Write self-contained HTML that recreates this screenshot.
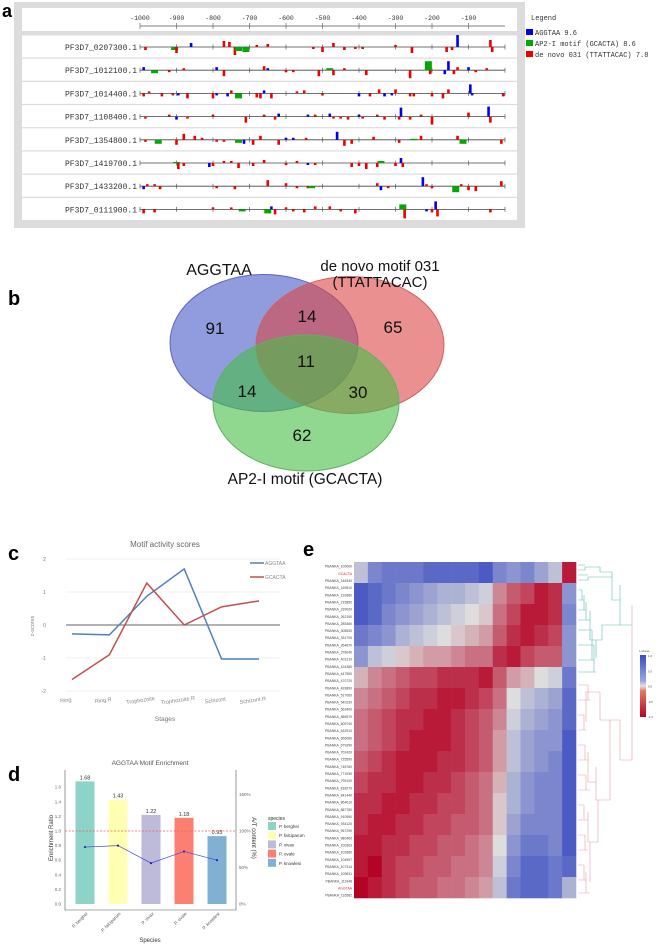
<!DOCTYPE html>
<html><head><meta charset="utf-8"><style>
body{margin:0;background:#fff;}
svg{display:block;font-family:"Liberation Sans",sans-serif;}
</style></head><body>
<svg id="fig" width="665" height="944" viewBox="0 0 665 944">
<!-- Panel a -->
<g id="panelA">
<rect x="14" y="2" width="511" height="226" fill="#dcdcdc"/>
<rect x="22" y="8" width="495" height="23" fill="#fff"/>
<g id="ruler"></g>
<g id="rows"></g>
<rect x="525" y="6" width="140" height="58" fill="#fff"/>
<text x="531" y="20" font-family="Liberation Mono" font-size="7" fill="#333">Legend</text>
<rect x="526" y="29" width="7" height="6" fill="#0000ee"/>
<text x="535" y="35" font-family="Liberation Mono" font-size="7" fill="#333">AGGTAA 9.6</text>
<rect x="526" y="40" width="7" height="6" fill="#00aa00"/>
<text x="535" y="46" font-family="Liberation Mono" font-size="7" fill="#333">AP2-I motif (GCACTA) 8.6</text>
<rect x="526" y="51" width="7" height="6" fill="#ee0000"/>
<text x="535" y="57" font-family="Liberation Mono" font-size="7" fill="#333">de novo 031 (TTATTACAC) 7.8</text>
</g>
<text x="2" y="17" font-size="18" font-weight="bold">a</text>

<!-- Panel b Venn -->
<g>
<text x="8" y="305" font-size="20" font-weight="bold">b</text>
<ellipse cx="264" cy="343" rx="94" ry="68.5" fill="rgb(70,90,200)" fill-opacity="0.6" stroke="#5a64c0"/>
<ellipse cx="350" cy="345" rx="94" ry="68.5" fill="rgb(220,70,70)" fill-opacity="0.6" stroke="#d06060"/>
<ellipse cx="306" cy="403" rx="93" ry="68" fill="rgb(70,190,70)" fill-opacity="0.6" stroke="#60b060"/>
<g font-size="17" fill="#111" text-anchor="middle">
<text x="219" y="275" font-size="16">AGGTAA</text>
<text x="380" y="271" font-size="15">de novo motif 031</text>
<text x="380" y="287" font-size="15">(TTATTACAC)</text>
<text x="305" y="484" font-size="15.5">AP2-I motif (GCACTA)</text>
<text x="215" y="334">91</text>
<text x="307" y="322">14</text>
<text x="393" y="333">65</text>
<text x="306" y="367">11</text>
<text x="247" y="397">14</text>
<text x="358" y="398">30</text>
<text x="302" y="441">62</text>
</g>
</g>

<!-- Panel c -->
<g id="panelC">
<text x="8" y="560" font-size="20" font-weight="bold">c</text>
<text x="165" y="547" font-size="8" fill="#666" text-anchor="middle">Motif activity scores</text>
<text transform="translate(34,626) rotate(-90)" font-size="5.5" fill="#888" text-anchor="middle">z-scores</text>
<text x="165" y="721" font-size="6.5" fill="#777" text-anchor="middle">Stages</text>
<line x1="250" y1="563" x2="264" y2="563" stroke="#4f81bd" stroke-width="1.5"/>
<text x="265" y="565" font-size="5" fill="#888">AGGTAA</text>
<line x1="250" y1="577" x2="264" y2="577" stroke="#c0504d" stroke-width="1.5"/>
<text x="265" y="579" font-size="5" fill="#888">GCACTA</text>
</g>

<!-- Panel d -->
<g id="panelD">
<text x="8" y="781" font-size="20" font-weight="bold">d</text>
<text x="150" y="765" font-size="6.5" fill="#555" text-anchor="middle">AGGTAA Motif Enrichment</text>
<text transform="translate(53,838) rotate(-90)" font-size="6" fill="#333" text-anchor="middle">Enrichment Ratio</text>
<text transform="translate(252,838) rotate(90)" font-size="6" fill="#333" text-anchor="middle">A/T content (%)</text>
<text x="150" y="942" font-size="6" fill="#333" text-anchor="middle">Species</text>
<text x="268" y="820" font-size="5" fill="#333">species</text>
</g>

<!-- Panel e -->
<g id="panelE">
<text x="303" y="556" font-size="20" font-weight="bold">e</text>
</g>
</svg>
<script>
const NS='http://www.w3.org/2000/svg';
function mk(tag,attrs,parent){const e=document.createElementNS(NS,tag);for(const k in attrs)e.setAttribute(k,attrs[k]);parent.appendChild(e);return e;}

/* ---------- Panel a data ---------- */
const rulerTicks=[-1000,-900,-800,-700,-600,-500,-400,-300,-200,-100];
const geneNames=['PF3D7_0207300.1','PF3D7_1012100.1','PF3D7_1014400.1','PF3D7_1108400.1','PF3D7_1354800.1','PF3D7_1419700.1','PF3D7_1433200.1','PF3D7_0111900.1'];
// each site: [position, motifType(0 AGGTAA,1 AP2-I,2 de novo), score (+ up / - down)]
const sites0=[[-985,2,-3],[-905,1,-3],[-900,2,-6],[-860,0,4],[-770,2,6],[-755,2,5],[-740,2,-8],[-730,1,-4],[-710,1,-5],[-680,2,2],[-650,2,3],[-525,2,-2],[-500,2,-5],[-470,2,4],[-440,2,-3],[-410,2,-2],[-390,2,-2],[-300,2,2],[-255,2,-6],[-160,2,-5],[-145,2,-3],[-130,0,12],[-40,2,7],[-35,2,-5]];
const sites1=[[-990,0,3],[-960,1,-3],[-920,2,-2],[-880,2,2],[-790,0,3],[-770,2,-6],[-660,2,4],[-650,0,2],[-600,2,-2],[-580,2,-2],[-510,2,-6],[-480,1,2],[-470,2,-5],[-440,2,2],[-380,2,-5],[-260,2,-8],[-210,1,9],[-205,2,-4],[-165,0,-4],[-155,0,9],[-140,2,-4],[-130,2,3],[-100,0,3],[-80,2,-2],[-50,2,2]];
const sites2=[[-990,2,-3],[-975,2,2],[-940,2,-3],[-910,2,-2],[-895,0,-2],[-870,2,-5],[-800,2,-5],[-790,0,-2],[-760,0,-3],[-750,2,3],[-730,1,-5],[-680,2,-4],[-670,2,-5],[-660,0,3],[-640,2,-5],[-570,2,2],[-550,2,3],[-500,2,-2],[-400,0,-3],[-370,2,-3],[-345,2,4],[-330,0,-3],[-310,0,-2],[-300,2,4],[-260,2,-3],[-250,2,-3],[-200,2,-3],[-170,2,-5],[-155,2,4],[-95,0,9],[-90,0,-2],[-5,2,-3]];
const sites3=[[-985,2,-2],[-920,2,2],[-900,0,-3],[-870,2,-2],[-800,2,2],[-710,2,-6],[-660,2,2],[-630,2,-3],[-620,0,3],[-540,0,2],[-520,2,2],[-480,0,3],[-470,2,-2],[-450,2,-2],[-430,2,-3],[-400,0,2],[-390,2,-2],[-350,2,2],[-330,2,-3],[-290,2,-3],[-285,0,9],[-260,2,-3],[-230,2,2],[-200,2,-8],[-100,2,4],[-45,0,10],[-40,2,-6]];
const sites4=[[-985,2,-2],[-950,1,-4],[-900,2,-5],[-880,2,6],[-850,2,4],[-830,2,2],[-790,2,-2],[-770,2,-2],[-730,1,-3],[-715,0,-4],[-690,2,-5],[-670,2,4],[-620,2,-5],[-600,0,2],[-580,0,2],[-545,2,2],[-460,0,8],[-440,2,-6],[-420,2,-4],[-360,2,3],[-290,2,-3],[-250,1,1],[-230,2,4],[-130,2,4],[-115,1,-4],[-10,2,-4]];
const sites5=[[-900,1,1],[-895,2,-6],[-880,2,-3],[-810,0,-4],[-800,2,-3],[-770,2,2],[-750,2,2],[-730,2,-5],[-690,2,-3],[-660,2,3],[-600,2,-2],[-570,2,2],[-540,0,-2],[-520,2,-2],[-420,2,-4],[-400,2,-3],[-380,2,-6],[-350,2,-4],[-340,1,2],[-300,2,-3],[-285,0,5],[-280,2,-4]];
const sites6=[[-990,0,-3],[-980,2,2],[-960,2,2],[-945,2,-3],[-790,2,-2],[-740,2,-3],[-650,2,6],[-600,2,3],[-570,2,-2],[-540,2,-2],[-530,1,-2],[-350,2,3],[-340,0,-4],[-320,2,-2],[-225,0,9],[-215,2,2],[-200,2,-2],[-135,1,-6],[-120,2,2],[-100,2,-4],[-80,2,-5],[-10,2,5]];
const sites7=[[-990,2,-4],[-960,2,-3],[-800,2,2],[-750,2,2],[-720,1,-2],[-650,1,-4],[-640,0,3],[-630,2,-5],[-600,2,2],[-580,2,-2],[-550,2,-3],[-520,2,3],[-480,2,3],[-450,2,-2],[-410,2,-4],[-280,1,5],[-275,2,-9],[-215,0,-2],[-200,2,-3],[-190,0,8],[-185,2,-7],[-40,2,-3]];
const allSites=[sites0,sites1,sites2,sites3,sites4,sites5,sites6,sites7];

(function(){
 const bx=p=>140+(p+1000)*0.365;
 const ruler=document.getElementById('ruler');
 let l=mk('line',{x1:bx(-1000),y1:26,x2:bx(0),y2:26,stroke:'#555','stroke-width':0.8},ruler);
 
 
 rulerTicks.forEach(t=>{
  const tk=mk('line',{x1:bx(t),y1:23,x2:bx(t),y2:29,stroke:'#555','stroke-width':0.6},ruler);
  
  
  const tx=mk('text',{x:bx(t),y:20,'font-size':6.5,'font-family':'Liberation Mono','text-anchor':'middle',fill:'#333'},ruler);
  tx.textContent=t;
  
  
 });
 const rows=document.getElementById('rows');
 const colors=['#0000ee','#00aa00','#ee0000'];
 geneNames.forEach((g,i)=>{
  const y=47+i*23.2;
  const box=mk('rect',{x:22,y:y-11.5,width:495,height:22,fill:'#fff'},rows);
  
  
  const tx=mk('text',{x:137,y:y+3,'font-size':8,'font-family':'Liberation Mono','text-anchor':'end',fill:'#333'},rows);
  tx.textContent=g;
  
  
  const ln=mk('line',{x1:bx(-1000),y1:y,x2:bx(0),y2:y,stroke:'#444','stroke-width':0.8},rows);
  
  
  for(let t=-1000;t<=0;t+=100){const tk=mk('line',{x1:bx(t),y1:y-2.5,x2:bx(t),y2:y+2.5,stroke:'#444','stroke-width':0.6},rows);
   
   }
  allSites[i].forEach(s=>{
   const w=s[1]===1?7:2.6;
   const h=s[2];
   const r=mk('rect',{x:bx(s[0])-w/2,y:h>0?y-h:y,width:w,height:Math.abs(h),fill:colors[s[1]]},rows);
   
   
  });
 });
})();

/* ---------- Panel c data ---------- */
const stages=['Ring','Ring.R','Trophozoite','Trophozoite.R','Schizont','Schizont.R'];
const aggtaaScores=[-0.27,-0.3,0.87,1.7,-1.03,-1.03];
const gcactaScores=[-1.65,-0.9,1.27,0.0,0.55,0.73];
const zTicks=[2,1,0,-1,-2];
(function(){
 const g=document.getElementById('panelC');
 const xs=i=>72+i*37.4, ys=v=>625-v*33;
 zTicks.forEach(t=>{
  const ln=mk('line',{x1:66,x2:280,y1:ys(t),y2:ys(t),stroke:t===0?'#666':'#e2e2e2','stroke-width':t===0?0.9:0.6},g);
  
  
  const tx=mk('text',{x:46,y:ys(t)+2,'font-size':5.5,fill:'#888','text-anchor':'end'},g);
  tx.textContent=t;
  
  
 });
 stages.forEach((s,i)=>{
  const tx=mk('text',{transform:`translate(${xs(i)-6},${702}) rotate(-8)`,'font-size':5.5,fill:'#888','text-anchor':'middle'},g);
  tx.textContent=s;
  
  
 });
 const p1=mk('polyline',{points:aggtaaScores.map((v,i)=>xs(i)+','+ys(v)).join(' '),fill:'none',stroke:'#4f81bd','stroke-width':1.5},g);
 
 
 const p2=mk('polyline',{points:gcactaScores.map((v,i)=>xs(i)+','+ys(v)).join(' '),fill:'none',stroke:'#c0504d','stroke-width':1.5},g);
 
 
})();

/* ---------- Panel d data ---------- */
const species=['P. berghei','P. falciparum','P. vivax','P. ovale','P. knowlesi'];
const enrichment=[1.68,1.43,1.22,1.18,0.93];
const enrichLabels=['1.68','1.43','1.22','1.18','0.93'];
const atContent=[78,80,56,72,60];
const ratioTicks=[0,0.2,0.4,0.6,0.8,1.0,1.2,1.4,1.6];
const atTicks=[0,50,100,150];
const speciesColors=['#8dd3c7','#ffffb3','#bebada','#fb8072','#80b1d3'];
(function(){
 const g=document.getElementById('panelD');
 const ys=v=>904-v*73, ya=v=>904-v*0.73, xs=i=>85+i*33;
 const ax=mk('path',{d:'M65,770 V910 H236 V770',fill:'none',stroke:'#555','stroke-width':0.6},g);
 
 
 ratioTicks.forEach(t=>{const tx=mk('text',{x:61,y:ys(t)+1.5,'font-size':4.5,fill:'#666','text-anchor':'end'},g);tx.textContent=t.toFixed(1);
  
  });
 atTicks.forEach(t=>{const tx=mk('text',{x:239,y:ya(t)+1.5,'font-size':4.5,fill:'#666'},g);tx.textContent=t+'%';
  
  });
 enrichment.forEach((v,i)=>{
  const r=mk('rect',{x:xs(i)-9.5,y:ys(v),width:19,height:ys(0)-ys(v),fill:speciesColors[i]},g);
  
  
  const tx=mk('text',{x:xs(i),y:ys(v)-2,'font-size':5.5,fill:'#333','text-anchor':'middle'},g);
  tx.textContent=enrichLabels[i];
  
  
  const xl=mk('text',{transform:`translate(${xs(i)+3},914) rotate(-45)`,'font-size':4.5,fill:'#555','text-anchor':'end'},g);
  xl.textContent=species[i];
  
  
  const sw=mk('rect',{x:268,y:822+i*9.2,width:8,height:8,fill:speciesColors[i]},g);
  
  
  const lt=mk('text',{x:279,y:828+i*9.2,'font-size':4.5,fill:'#333'},g);
  lt.textContent=species[i];
  
  
 });
 const dl=mk('line',{x1:65,x2:236,y1:ys(1),y2:ys(1),stroke:'#f06060','stroke-width':0.7,'stroke-dasharray':'2,1.5'},g);
 
 
 const pl=mk('polyline',{points:atContent.map((v,i)=>xs(i)+','+ya(v)).join(' '),fill:'none',stroke:'#4444cc','stroke-width':0.7},g);
 
 
 atContent.forEach((v,i)=>{const c=mk('circle',{cx:xs(i),cy:ya(v),r:1.1,fill:'#2222aa'},g);
  
  });
})();

/* ---------- Panel e data (value +1 blue, -1 red) ---------- */
const heatRows=[
[0.2,0.6,0.7,0.7,0.7,0.8,0.8,0.8,0.8,0.9,0.6,0.5,0.6,0.4,0.2,-0.9],
[0.9,0.8,0.7,0.6,0.5,0.4,0.3,0.3,0.2,0.1,-0.4,-0.6,-0.7,-0.9,-0.8,0.5],
[0.9,0.8,0.6,0.5,0.4,0.3,0.2,0.1,0.0,-0.1,-0.5,-0.7,-0.9,-0.9,-0.8,0.6],
[0.7,0.6,0.5,0.3,0.2,0.1,0.0,-0.1,-0.2,-0.3,-0.6,-0.8,-0.9,-0.8,-0.7,0.5],
[0.5,0.2,0.1,-0.1,-0.2,-0.3,-0.3,-0.4,-0.5,-0.5,-0.8,-0.9,-0.7,-0.6,-0.6,0.5],
[-0.2,-0.4,-0.5,-0.6,-0.7,-0.7,-0.8,-0.8,-0.8,-0.9,-0.6,-0.3,-0.2,0.0,0.1,0.7],
[-0.4,-0.5,-0.6,-0.7,-0.8,-0.8,-0.9,-0.9,-0.8,-0.7,-0.5,0.0,0.2,0.3,0.4,0.8],
[-0.5,-0.6,-0.7,-0.8,-0.8,-0.9,-0.9,-0.8,-0.7,-0.6,-0.4,0.1,0.3,0.4,0.5,0.8],
[-0.5,-0.6,-0.7,-0.8,-0.9,-0.9,-0.9,-0.8,-0.7,-0.6,-0.3,0.2,0.4,0.5,0.5,0.9],
[-0.6,-0.7,-0.8,-0.9,-0.9,-0.9,-0.8,-0.8,-0.7,-0.6,-0.3,0.2,0.4,0.5,0.6,0.9],
[-0.7,-0.8,-0.8,-0.9,-0.9,-0.8,-0.8,-0.7,-0.6,-0.5,-0.2,0.3,0.5,0.6,0.6,0.9],
[-0.8,-0.8,-0.9,-0.9,-0.8,-0.8,-0.7,-0.7,-0.6,-0.5,-0.1,0.3,0.5,0.6,0.6,0.9],
[-0.8,-0.9,-0.9,-0.8,-0.8,-0.7,-0.7,-0.6,-0.6,-0.5,-0.1,0.4,0.6,0.6,0.6,0.9],
[-0.9,-0.9,-0.8,-0.8,-0.7,-0.7,-0.6,-0.6,-0.5,-0.4,0.0,0.5,0.7,0.7,0.6,0.9],
[-0.9,-1.0,-0.8,-0.7,-0.7,-0.6,-0.6,-0.5,-0.5,-0.4,0.1,0.6,0.8,0.8,0.7,0.8],
[-1.0,-0.9,-0.8,-0.7,-0.6,-0.6,-0.5,-0.5,-0.4,-0.3,0.2,0.7,0.8,0.8,0.7,0.3]];
const heatRowLabels=Array.from({length:47},(_,i)=>i===1?'GCACTA':(i===45?'AGGTAA':'PBANKA_'+(100000+i*23170).toString().slice(0,6)));
const colorbarTicks=['1.0','0.5','0.0','-0.5','-1.0'];
(function(){
 const g=document.getElementById('panelE');
 const X0=354,X1=576,Y0=562,Y1=898;
 const nr=heatRows.length,nc=heatRows[0].length;
 const cw=(X1-X0)/nc,ch=(Y1-Y0)/nr;
 function col(v){const b=[59,76,192],w=[221,221,221],r=[180,4,38];
  const t=Math.abs(v),c=v>=0?b:r;
  return 'rgb('+[0,1,2].map(k=>Math.round(w[k]+(c[k]-w[k])*t)).join(',')+')';}
 heatRows.forEach((row,i)=>row.forEach((v,j)=>{
  const r=mk('rect',{x:X0+j*cw,y:Y0+i*ch,width:cw+0.3,height:ch+0.3,fill:col(v)},g);
  
  
 }));
 const lh=(Y1-Y0)/heatRowLabels.length;
 heatRowLabels.forEach((s,i)=>{
  const tx=mk('text',{x:352,y:Y0+i*lh+lh*0.8,'font-size':3.4,fill:(i===1||i===45)?'#e02020':'#444','text-anchor':'end'},g);
  tx.textContent=s;
  
  
 });
 const dTeal='M578,565 H585 M578,570 H585 V567 H600 M578,575 H588 M578,580 H588 V577 H612 M600,567 V572 H612 M612,572 V600 H620 M578,590 H582 M578,600 H584 M578,610 H586 M578,620 H590 M582,590 V600 H584 M584,595 V610 H586 M586,602 V620 H590 M590,611 V640 H602 M578,630 H592 M578,645 H594 M578,660 H592 M578,672 H596 M592,630 V660 H594 M594,645 V672 H596 M596,658 V640 H602 M602,640 V625 H620 M620,585 V625 H632';
 const dPink='M578,685 H588 M578,700 H590 M588,685 V700 H590 M578,715 H584 M578,730 H586 M584,715 V730 H586 M586,722 V692 H600 M578,745 H585 M578,760 H588 M585,745 V760 H588 M578,775 H586 M578,790 H590 M586,775 V790 H590 M588,752 V782 H596 M578,805 H584 M578,820 H588 M584,805 V820 H588 M578,835 H585 M578,850 H588 M585,835 V850 H588 M588,812 V842 H598 M578,865 H584 M578,880 H586 M578,893 H590 M584,865 V880 H586 M586,872 V893 H590 M590,882 V842 H598 M598,842 V800 H610 M596,767 V800 H610 M600,692 V720 H620 M610,800 V720 H620 M620,720 V760 H632 M632,605 V760';
 const t=mk('path',{d:dTeal,fill:'none',stroke:'#5cc0b0','stroke-width':0.6},g);
 
 
 const p=mk('path',{d:dPink,fill:'none',stroke:'#e8a0aa','stroke-width':0.6},g);
 
 
 const gr=mk('linearGradient',{id:'cb',x1:0,y1:0,x2:0,y2:1},g);
 [['0%','rgb(59,76,192)'],['42%','rgb(150,170,230)'],['50%','rgb(235,225,220)'],['58%','rgb(230,120,100)'],['100%','rgb(180,4,38)']].forEach(s=>mk('stop',{offset:s[0],'stop-color':s[1]},gr));
 const cb=mk('rect',{x:640,y:655,width:6,height:62,fill:'url(#cb)'},g);
 
 
 const ct=mk('text',{x:639,y:652,'font-size':2.8,fill:'#444'},g);
 ct.textContent='z-scores';
 
 
 colorbarTicks.forEach((s,i)=>{const tx=mk('text',{x:648,y:657+i*15.3,'font-size':2.8,fill:'#444'},g);tx.textContent=s;
  
  });
})();
</script>
</body></html>
